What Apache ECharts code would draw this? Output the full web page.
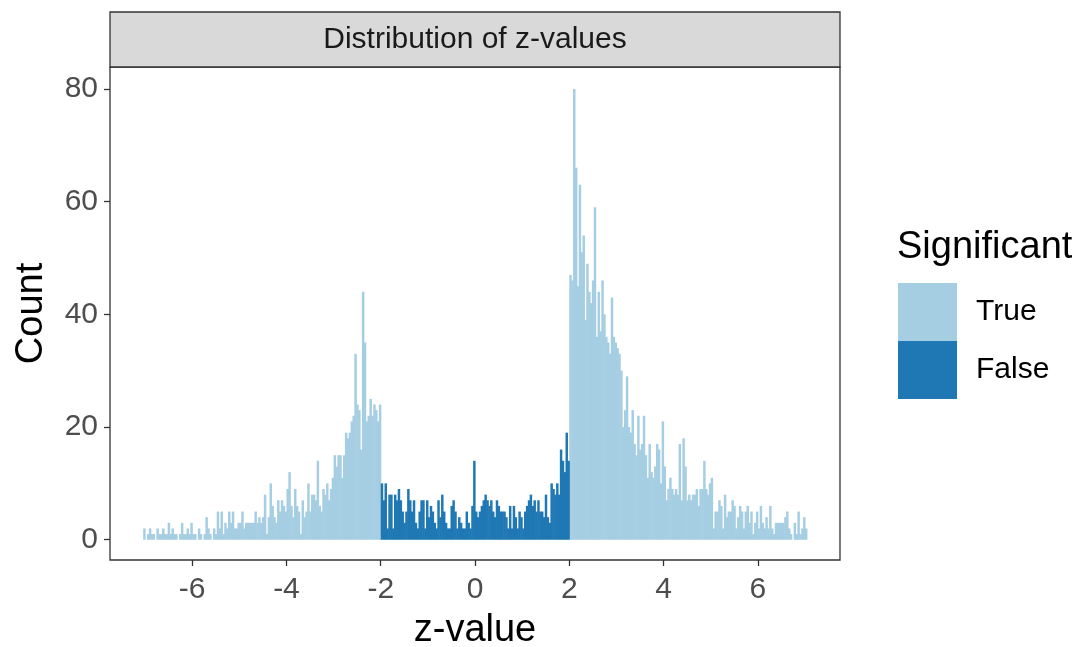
<!DOCTYPE html>
<html>
<head>
<meta charset="utf-8">
<script src="https://cdn.jsdelivr.net/npm/echarts@6/dist/echarts.min.js"></script>
<style>
  html, body { margin: 0; padding: 0; background: #ffffff; }
  #chart { width: 1077px; height: 647px; }
</style>
</head>
<body>
<div id="chart"></div>
<script>
// histogram bins (width 0.04), counts
const binWidth = 0.04
const trueLeftStart = -7.04
const falseStart = -2
const trueRightStart = 2

const trueLeft = [
  2, 0, 1, 2, 1, 1, 0, 2, 1, 1, 2, 1, 1, 3, 1, 2, 1, 1, 0, 1,
  3, 1, 1, 2, 1, 3, 1, 1, 0, 2, 1, 0, 1, 4, 2, 1, 0, 2, 1, 5,
  2, 5, 1, 3, 2, 5, 3, 5, 2, 2, 3,
  3, 5, 2, 3, 3,
  3, 3, 3, 5, 3, 4, 3, 4, 8, 1, 4, 10, 6, 4, 3, 7, 5, 7, 6, 5,
  9, 12, 6, 4, 9, 6, 5, 1, 7, 4, 5, 10, 5, 8, 8, 7, 14, 6, 5, 9,
  8, 10, 7, 9, 11, 15, 13, 15,
  15, 11, 15, 19, 18, 19, 21, 22, 33, 24, 23, 16, 44, 35, 21, 22,
  25, 22, 24, 23, 21, 24
]
const falseMid = [
  10, 7, 10, 2, 8, 8, 2, 8, 7, 9, 7, 5, 3, 5, 9, 7, 5, 7, 3, 2,
  5, 7, 7, 2, 7, 4, 6, 5, 3, 2, 7, 4, 8, 5, 3, 2, 2, 6, 7, 5, 2, 4,
  3, 2, 2, 5, 3, 2, 6, 14, 5, 4, 5, 6, 7, 8, 7, 6, 7, 5, 4, 7, 6,
  5, 5, 5, 4, 2, 6, 2, 6, 4, 2, 5, 4, 2, 5, 6, 7, 8, 6, 7, 5,
  7, 5, 5, 4, 8, 4, 3, 10, 9, 8, 10, 8, 16, 14, 12, 19, 14
]
const trueRight = [
  47, 46, 80, 66, 45, 63, 51, 54, 39, 49, 44, 42, 46, 59, 36, 44, 37, 46, 40, 36,
  35, 33, 43, 36, 35, 34, 33, 30, 20, 23, 29, 20, 19, 23, 17, 15, 22, 16, 17, 22,
  15, 11, 17,
  12, 11, 13, 17, 16, 10, 21, 13, 7, 9, 11, 9, 8, 9, 8, 17, 7, 18, 13, 7,
  8, 7, 8, 8, 9, 6, 9, 9, 14, 9, 8, 10, 11, 2, 5, 5, 7, 6, 2, 8,
  4, 5, 5, 7, 6, 2, 4, 6,
  5, 2, 5, 6, 3, 5, 1, 3, 5, 2, 6, 3, 2, 4, 2, 6, 2, 1, 3, 3,
  3, 3, 3, 4, 5, 2, 1, 0, 3, 1, 5, 1, 2, 4, 2
]

const xTicks = [-6, -4, -2, 0, 2, 4, 6]
const yTicks = [0, 20, 40, 60, 80]
const legendNames = ['True', 'False']

const colorTrue = '#A6CEE3'
const colorFalse = '#1F78B4'

function toBins(start, counts) {
  return counts.map((c, i) => [start + i * binWidth, start + (i + 1) * binWidth, c])
}

function renderBar(params, api) {
  const p0 = api.coord([api.value(0), api.value(2)])
  const p1 = api.coord([api.value(1), 0])
  return {
    type: 'rect',
    shape: { x: p0[0], y: p0[1], width: p1[0] - p0[0] + 0.6, height: p1[1] - p0[1] },
    style: { fill: api.visual('color') },
  }
}

const font = '"Liberation Sans", Arial, Helvetica, sans-serif'
const chart = echarts.init(document.getElementById('chart'), null, { renderer: 'canvas' })

chart.setOption({
  animation: false,
  backgroundColor: '#ffffff',
  textStyle: { fontFamily: font },
  grid: {
    left: 110, right: 237, top: 67, bottom: 87,
    outerBoundsMode: 'none', containLabel: false,
    show: true, backgroundColor: '#ffffff', borderColor: '#333333', borderWidth: 1.3,
  },
  graphic: [
    {
      type: 'rect', z: 10,
      shape: { x: 110, y: 12, width: 730, height: 55 },
      style: { fill: '#D9D9D9', stroke: '#333333', lineWidth: 1.3 },
    },
    {
      type: 'text', z: 11, x: 475, y: 40,
      style: {
        text: 'Distribution of z-values', fill: '#1A1A1A',
        font: '30px ' + font, textAlign: 'center', textVerticalAlign: 'middle',
      },
    },
    {
      type: 'text', z: 11, x: 897, y: 248,
      style: {
        text: 'Significant', fill: '#000000',
        font: '38px ' + font, textAlign: 'left', textVerticalAlign: 'middle',
      },
    },
  ],
  legend: {
    data: legendNames,
    orient: 'vertical',
    left: 898, top: 283,
    padding: 0,
    itemWidth: 59, itemHeight: 58, itemGap: 0,
    icon: 'rect',
    selectedMode: false,
    textStyle: { fontSize: 30, color: '#000000', fontFamily: font, padding: [0, 0, 0, 14] },
  },
  xAxis: {
    type: 'value',
    min: -7.744, max: 7.744,
    name: 'z-value', nameLocation: 'middle', nameGap: 52,
    nameTextStyle: { fontSize: 38, color: '#000000', fontFamily: font },
    axisLine: { show: false, onZero: false },
    splitLine: { show: false },
    axisTick: { show: true, inside: false, length: 6, customValues: xTicks, lineStyle: { color: '#333333', width: 1.3 } },
    axisLabel: { customValues: xTicks, fontSize: 30, color: '#4D4D4D', margin: 15, fontFamily: font },
  },
  yAxis: {
    type: 'value',
    min: -3.6, max: 83.9,
    name: 'Count', nameLocation: 'middle', nameGap: 59, nameRotate: 90,
    nameTextStyle: { fontSize: 38, color: '#000000', fontFamily: font },
    axisLine: { show: false, onZero: false },
    splitLine: { show: false },
    axisTick: { show: true, inside: false, length: 6, customValues: yTicks, lineStyle: { color: '#333333', width: 1.3 } },
    axisLabel: { customValues: yTicks, fontSize: 30, color: '#4D4D4D', margin: 12, fontFamily: font },
  },
  series: [
    {
      name: 'True', type: 'custom', renderItem: renderBar,
      itemStyle: { color: colorTrue },
      encode: { x: [0, 1], y: 2 },
      data: toBins(trueLeftStart, trueLeft).concat(toBins(trueRightStart, trueRight)),
    },
    {
      name: 'False', type: 'custom', renderItem: renderBar,
      itemStyle: { color: colorFalse },
      encode: { x: [0, 1], y: 2 },
      data: toBins(falseStart, falseMid),
    },
  ],
})
</script>
</body>
</html>
